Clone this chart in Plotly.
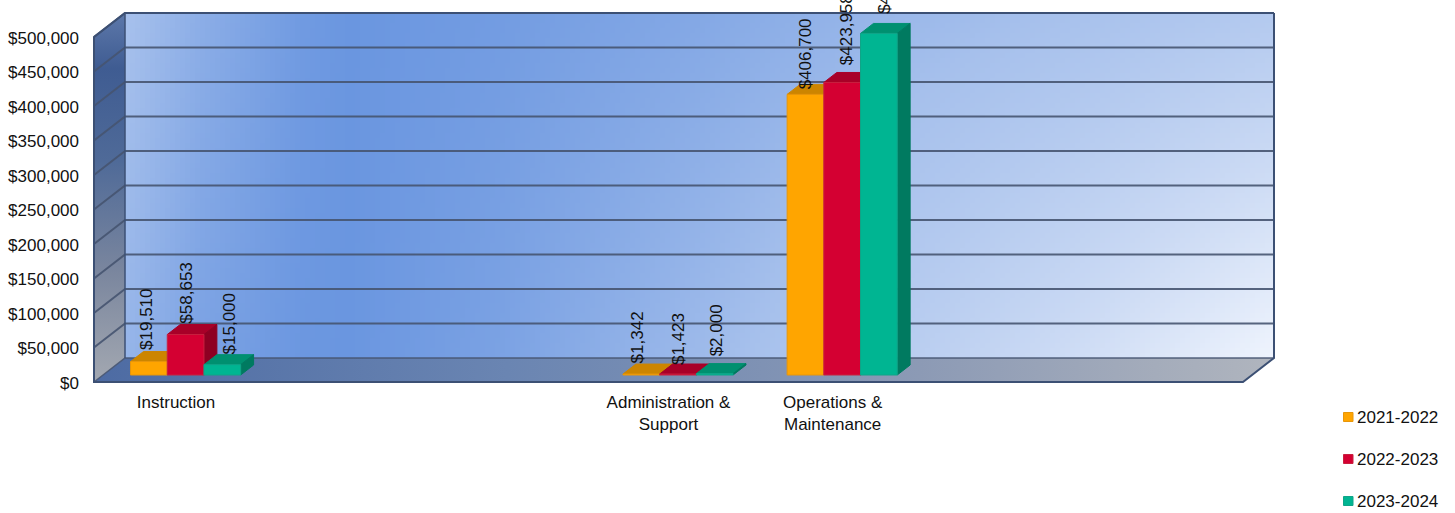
import numpy as np
import plotly.graph_objects as go

# Budget data
categories = ["Instruction", "", "", "Administration &<br>Support", "Operations &<br>Maintenance", "", ""]
years = ["2021-2022", "2022-2023", "2023-2024"]
funds_2021 = [19510, None, None, 1342, 406700, None, None]
funds_2022 = [58653, None, None, 1423, 423958, None, None]
funds_2023 = [15000, None, None, 2000, 495000, None, None]
dollar_ticks = [0, 50000, 100000, 150000, 200000, 250000, 300000, 350000, 400000, 450000, 500000]

# Canvas and projection set-up
W, H = 1455, 513
LEFT, RIGHT, FLOOR = 94, 1243, 382
CAT_PX = (RIGHT - LEFT) / len(categories)
DOLLAR_PX = 345 / 500000
WALL_DX, WALL_DY = 31, 24
BAR_W = 36.7
BAR_NEAR, BAR_FAR = 7 / 24, 17 / 24
FONT = "Liberation Sans, Arial, sans-serif"
TEXT = "#111111"
GRID = "rgba(70,84,112,0.9)"
EDGE = "#3c5074"

series_styles = [
    dict(front="#ffa500", top="#cc8500", side="#b07200", edge="#e8960a"),
    dict(front="#d40032", top="#a80028", side="#8e0022", edge="#c8203f"),
    dict(front="#00b592", top="#009070", side="#007a60", edge="#10a488"),
]
# Small hand placement of the rotated value labels, in pixels (dx, dy)
label_nudge = [
    [(-3, 2), (0, 1), (7, 0)],
    None, None,
    [(-4, 1), (0, -1), (2, 7)],
    [(0, -5), (5, 7), (6, 10)],
    None, None,
]

xr = (-0.5 - LEFT / CAT_PX, -0.5 + (W - LEFT) / CAT_PX)
yr = (-(H - FLOOR) / DOLLAR_PX, FLOOR / DOLLAR_PX)


def dx(px):
    return px / CAT_PX


def dy(px):
    return px / DOLLAR_PX


fig = go.Figure()

# Back wall: a smooth two-edge lightness gradient, given as cells between edges
wall_stops = [125, 200, 300, 350, 500, 700, 900, 1100, 1275]
wall_top = [0.36, 0.2, 0.04, 0.0, 0.05, 0.15, 0.28, 0.38, 0.48]
wall_bottom = [0.26, 0.1, 0.01, 0.0, 0.1, 0.3, 0.52, 0.76, 1.0]
wall_edges_px = np.linspace(125, 1275, 231)
wall_edges_v = np.linspace(0, 1, 70)
wall_cells_px = (wall_edges_px[:-1] + wall_edges_px[1:]) / 2
wall_cells_v = (wall_edges_v[:-1] + wall_edges_v[1:]) / 2
top_l = np.interp(wall_cells_px, wall_stops, wall_top)
bot_l = np.interp(wall_cells_px, wall_stops, wall_bottom)
wall_z = np.array([(1 - v) * bot_l + v * top_l for v in wall_cells_v])
fig.add_trace(go.Heatmap(
    x=-0.5 + (wall_edges_px - LEFT) / CAT_PX,
    y=dy(WALL_DY) + wall_edges_v * 500000,
    z=wall_z, zmin=0, zmax=1, showscale=False, hoverinfo="skip",
    colorscale=[[0, "#6a96e0"], [0.35, "#a6c0ec"], [0.7, "#cbdaf4"], [1, "#eff4fd"]],
))

x_front_l, x_front_r = -0.5, -0.5 + len(categories)
x_back_l, x_back_r = x_front_l + dx(WALL_DX), x_front_r + dx(WALL_DX)
y_back = dy(WALL_DY)
y_top = 500000

# Left side wall
fig.add_trace(go.Scatter(
    x=[x_front_l, x_back_l, x_back_l, x_front_l, x_front_l],
    y=[0, y_back, y_top + y_back, y_top, 0],
    mode="lines", line=dict(width=0), fill="toself", hoverinfo="skip", showlegend=False,
    fillgradient=dict(type="vertical", colorscale=[
        [0, "#a3a8b1"], [0.3, "#7a869e"], [0.6, "#4f6a98"], [0.85, "#3f5c92"], [1, "#5d78aa"]]),
))
# Floor
fig.add_trace(go.Scatter(
    x=[x_front_l, x_front_r, x_back_r, x_back_l, x_front_l],
    y=[0, 0, y_back, y_back, 0],
    mode="lines", line=dict(width=0), fill="toself", hoverinfo="skip", showlegend=False,
    fillgradient=dict(type="horizontal", colorscale=[
        [0, "#4d6ba3"], [0.35, "#6a85b2"], [0.7, "#8c9ab5"], [1, "#b0b5be"]]),
))

# Gridlines along the side wall and back wall
for tick in dollar_ticks:
    fig.add_trace(go.Scatter(
        x=[x_front_l, x_back_l, x_back_r], y=[tick, tick + y_back, tick + y_back],
        mode="lines", line=dict(color=GRID, width=2 if tick else 1.5), hoverinfo="skip", showlegend=False,
    ))

# Wall and floor outline
fig.add_trace(go.Scatter(
    x=[x_back_r, x_back_r, x_front_r, x_front_l, x_front_l, x_back_l, x_back_r],
    y=[y_top + y_back, y_back, 0, 0, y_top, y_top + y_back, y_top + y_back],
    mode="lines", line=dict(color=EDGE, width=2), hoverinfo="skip", showlegend=False,
))
fig.add_trace(go.Scatter(
    x=[x_back_l, x_back_l], y=[y_top + y_back, y_back],
    mode="lines", line=dict(color=EDGE, width=1.5), hoverinfo="skip", showlegend=False,
))


def polygon(xs, ys, color, edge=None, name=None):
    fig.add_trace(go.Scatter(
        x=xs + xs[:1], y=ys + ys[:1], mode="lines", fill="toself", fillcolor=color,
        line=dict(color=edge or color, width=1), hoverinfo="skip", showlegend=False, name=name,
    ))


# Bars, drawn per category from left to right so nearer faces overlap
near_x = dx(BAR_NEAR * WALL_DX + 0.5)
far_x = dx(BAR_FAR * WALL_DX + 0.5)
lift_near = dy(BAR_NEAR * WALL_DY)
lift_far = dy(BAR_FAR * WALL_DY)
bar_w = dx(BAR_W)
annotations = []
all_series = [funds_2021, funds_2022, funds_2023]
for c in range(len(categories)):
    for s, values in enumerate(all_series):
        v = values[c]
        if v is None:
            continue
        st = series_styles[s]
        x0 = c + near_x + (s - 1.5) * bar_w
        x1 = x0 + bar_w
        shift = far_x - near_x
        top_near, top_far = lift_near + v, lift_far + v
        polygon([x0, x1, x1 + shift, x0 + shift], [top_near, top_near, top_far, top_far], st["top"])
        polygon([x1, x1 + shift, x1 + shift, x1], [lift_near, lift_far, top_far, top_near], st["side"])
        polygon([x0, x1, x1, x0], [lift_near, lift_near, top_near, top_near], st["front"], st["edge"], years[s])
        ndx, ndy = label_nudge[c][s]
        annotations.append(dict(
            x=(x0 + x1) / 2, y=top_far, xref="x", yref="y", text=f"${v:,}", textangle=-90,
            showarrow=False, xanchor="center", yanchor="bottom", xshift=ndx, yshift=ndy,
            font=dict(family=FONT, size=17, color=TEXT), borderpad=0, borderwidth=0,
        ))

# Key at the lower right
key_rows = [417, 459, 501]
shapes = []
for name, row, st in zip(years, key_rows, series_styles):
    shapes.append(dict(
        type="rect", xref="paper", yref="paper", layer="above",
        x0=1343.5 / W, x1=1353 / W, y0=1 - (row + 4.5) / H, y1=1 - (row - 4.5) / H,
        fillcolor=st["front"], line=dict(color=st["edge"], width=1),
    ))
    annotations.append(dict(
        x=1355.5 / W, y=1 - row / H, xref="paper", yref="paper", text=name, showarrow=False,
        xanchor="left", yanchor="middle", font=dict(family=FONT, size=17, color=TEXT), borderpad=0,
    ))

fig.update_layout(
    width=W, height=H, autosize=False, margin=dict(l=0, r=0, t=0, b=0),
    paper_bgcolor="white", plot_bgcolor="white", showlegend=False,
    annotations=annotations, shapes=shapes,
    font=dict(family=FONT, size=17, color=TEXT),
    xaxis=dict(
        range=xr, domain=[0, 1], anchor="free", position=1 - FLOOR / H, showgrid=False, zeroline=False,
        showline=False, ticks="", tickmode="array", tickvals=list(range(len(categories))),
        ticktext=categories, tickangle=0, ticklabelstandoff=8, tickfont=dict(family=FONT, size=17, color=TEXT),
    ),
    yaxis=dict(
        range=yr, domain=[0, 1], anchor="free", position=LEFT / W, showgrid=False, zeroline=False,
        showline=False, ticks="", tickmode="array", tickvals=dollar_ticks,
        ticktext=[f"${t:,}" for t in dollar_ticks], ticklabelstandoff=15, ticklabelshift=1,
        tickfont=dict(family=FONT, size=17, color=TEXT),
    ),
)

fig.write_html("out.html")
